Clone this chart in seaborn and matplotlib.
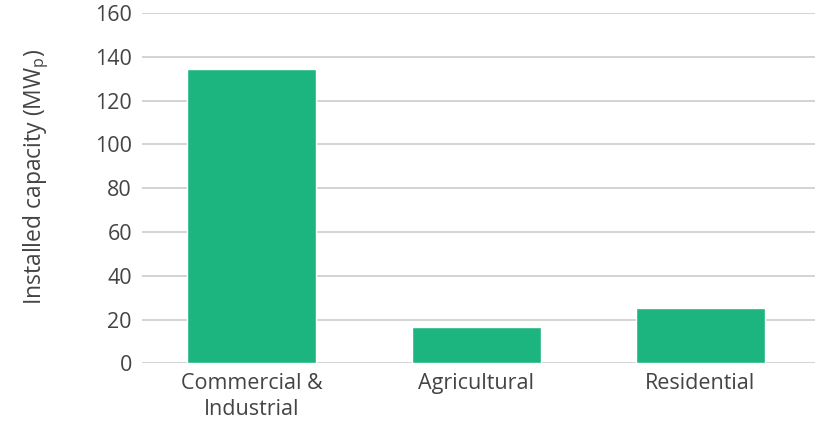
import pandas as pd
import matplotlib
matplotlib.use("Agg")
import matplotlib.pyplot as plt
import seaborn as sns

#------ data ------
categories = ["Commercial &\nIndustrial", "Agricultural", "Residential"]
capacity = [134.6, 16.6, 25.2]
yticks = [0, 20, 40, 60, 80, 100, 120, 140, 160]

df = pd.DataFrame({"Sector": categories, "Capacity": capacity})

sns.set_theme(style="white")
plt.rcParams['font.family'] = ['Open Sans', 'DejaVu Sans']

fig = plt.figure(figsize=(8.19, 4.23), dpi=100)
ax = fig.add_axes([0.173, 0.141, 0.822, 0.828])

sns.barplot(x="Sector", y="Capacity", data=df, color="#1db57f",
            width=0.575, saturation=1, ax=ax, zorder=3)

ax.set_ylim(0, 160)
ax.set_yticks(yticks)
ax.set_xlim(-0.49, 2.51)
ax.grid(axis='y', color='#cccccc', linewidth=1.2, zorder=0)
ax.set_axisbelow(True)
for s in ax.spines.values():
    s.set_visible(False)

ax.tick_params(axis='both', length=0, labelsize=15.5, labelcolor='#444444')
ax.tick_params(axis='y', pad=7)
ax.tick_params(axis='x', pad=7)
for lbl in ax.get_xticklabels():
    lbl.set_linespacing(1.3)
ax.set_xlabel("")
ax.set_ylabel("Installed capacity (MW$_\\mathregular{p}$)", fontsize=16.5,
              color='#444444')
ax.yaxis.set_label_coords(-0.134, 0.532)

fig.savefig("out.png", dpi=100)
